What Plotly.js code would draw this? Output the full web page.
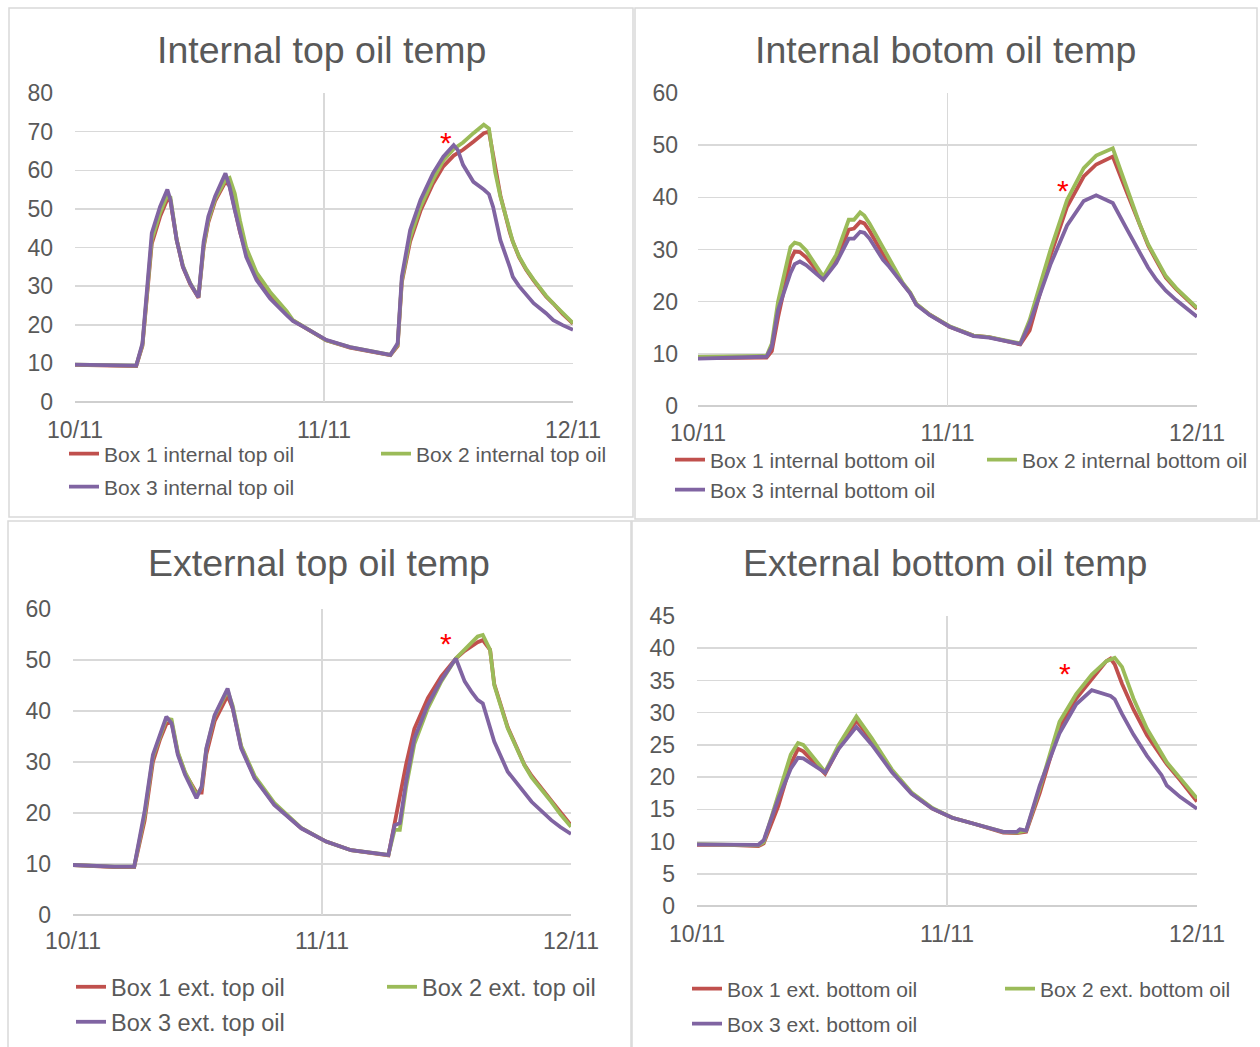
<!DOCTYPE html>
<html>
<head>
<meta charset="utf-8">
<script src="https://cdn.plot.ly/plotly-3.0.1.min.js"></script>
<style>html,body{margin:0;padding:0;background:#fff;}#chart{width:1260px;height:1047px;}</style>
</head>
<body>
<div id="chart"></div>
<script>
// ---- data (hours since 10/11 00:00) ----
const dayTickVals = [0, 24, 48];
const dayTickText = ["10/11", "11/11", "12/11"];

// Panel 1: Internal top oil temp
const t1 = [0, 2, 4, 5.9, 6.5, 7.4, 8.2, 8.9, 9.2, 9.8, 10.4, 11.1, 11.9, 12.4, 12.85, 13.5, 14.5, 14.9, 15.4, 15.9, 16.5, 17.5, 18.8, 20.4, 21.0, 22.0, 24.2, 26.5, 30.4, 31.1, 31.5, 32.3, 33.3, 34.5, 35.5, 36.5, 36.9, 37.4, 38.4, 39.4, 39.9, 40.3, 40.5, 41.0, 41.9, 42.2, 42.8, 43.5, 44.2, 45.4, 46.1, 47.0, 48.0];
const intTopBox1 = [9.6, 9.5, 9.4, 9.3, 14.5, 41, 48, 52.5, 52, 42, 35, 30.5, 27, 40, 46.5, 52, 57, 56, 50, 44, 38.5, 32.5, 27.5, 22.8, 21.1, 19.5, 16.0, 14.1, 12.1, 14.5, 31, 41.5, 49.5, 56.5, 61, 63.8, 64.5, 65.3, 67.4, 69.6, 70.0, 64, 60, 53.5, 44, 41.5, 37.5, 34.2, 31.5, 27.3, 25.5, 22.8, 20.3];
const intTopBox2 = [9.7, 9.6, 9.5, 9.4, 14.8, 42, 49, 53.5, 53, 42, 35.3, 30.8, 27.2, 40.5, 47, 52.5, 57.5, 58, 54, 47, 40, 33.5, 28.5, 23.5, 21.2, 19.5, 16.0, 14.2, 12.2, 14.8, 31.5, 42.5, 50.5, 57.5, 62.5, 65.5, 66.3, 67.2, 69.6, 71.8, 70.8, 63.5, 59.5, 53.2, 44, 41.5, 37.7, 34.4, 31.7, 27.5, 25.5, 23.0, 20.4];
const intTopBox3 = [9.7, 9.6, 9.5, 9.4, 15.2, 43.7, 50.6, 55.0, 52.3, 41.9, 35.0, 30.7, 27.1, 41.5, 48.0, 53.2, 59.2, 55.7, 49.7, 43.7, 37.6, 31.6, 26.8, 22.5, 21.0, 19.5, 16.1, 14.2, 12.2, 15.2, 32.4, 44.5, 52.3, 59.2, 63.5, 66.5, 65.2, 61.4, 57.0, 55.0, 53.8, 50.5, 48.0, 41.9, 35.0, 32.4, 30.0, 27.8, 25.6, 23.0, 21.2, 19.9, 18.7];

// Panel 2: Internal botom oil temp
const t2 = [0, 3, 5, 6.6, 7.1, 7.7, 8.9, 9.3, 9.8, 10.4, 12.05, 13.3, 14.5, 15.0, 15.6, 16.0, 16.5, 17.8, 18.4, 19.7, 20.4, 21.0, 22.3, 24.2, 26.5, 28.0, 31.0, 31.9, 33.9, 35.5, 37.1, 38.3, 39.9, 41.2, 42.5, 43.3, 44.1, 45.0, 46.0, 47.0, 48.0];
const intBotBox1 = [9.2, 9.3, 9.2, 9.3, 10.5, 17, 28, 29.6, 29.5, 28.5, 24.5, 28.0, 33.8, 34.0, 35.3, 35.0, 33.6, 29.0, 27.0, 23.4, 21.7, 19.5, 17.5, 15.2, 13.5, 13.2, 11.8, 14.5, 28.8, 38.2, 44.0, 46.3, 47.8, 41.2, 34.5, 30.8, 27.8, 24.6, 22.4, 20.4, 18.6];
const intBotBox2 = [9.4, 9.5, 9.5, 9.6, 12, 20, 30.5, 31.3, 31, 29.8, 24.8, 29.0, 35.7, 35.7, 37.1, 36.5, 35.0, 30.3, 28.0, 23.6, 21.8, 19.6, 17.5, 15.3, 13.5, 13.2, 12.0, 16.5, 29.9, 39.5, 45.6, 48.0, 49.4, 42.0, 34.8, 31.0, 28.0, 24.9, 22.6, 20.6, 18.8];
const intBotBox3 = [9.1, 9.3, 9.3, 9.45, 11.4, 18.4, 25.5, 27.2, 27.7, 27.0, 24.2, 27.4, 32.1, 32.1, 33.4, 33.2, 32.1, 28.0, 26.7, 23.2, 21.6, 19.4, 17.4, 15.2, 13.4, 13.1, 11.9, 15.8, 27.1, 34.6, 39.3, 40.4, 38.9, 34.1, 29.3, 26.5, 24.2, 22.1, 20.3, 18.6, 17.1];

// Panel 3: External top oil temp
const t3 = [0, 2, 4, 5.9, 6.9, 7.7, 8.4, 9.0, 9.5, 10.1, 10.8, 11.9, 12.4, 12.85, 13.65, 14.9, 15.4, 16.2, 17.5, 19.4, 22.0, 24.4, 26.8, 30.4, 31.0, 31.5, 32.1, 32.9, 34.2, 35.5, 36.9, 37.75, 38.4, 39.0, 39.5, 40.2, 40.6, 41.9, 43.5, 44.2, 46.1, 47.0, 48.0];
const extTopBox1 = [9.8, 9.6, 9.4, 9.4, 18.5, 30.0, 34.5, 37.5, 37.8, 31.8, 27.8, 24, 24, 31.5, 38.0, 43.0, 40.5, 33.0, 27.0, 21.7, 17.0, 14.4, 12.7, 11.7, 18, 23, 29.5, 36.5, 42.5, 46.8, 50.3, 51.8, 52.7, 53.5, 53.9, 52, 45.3, 36.8, 29.5, 27.3, 22.4, 20.0, 17.6];
const extTopBox2 = [9.8, 9.6, 9.5, 9.5, 19.5, 31.0, 35.0, 38.5, 38.3, 32.0, 28.0, 23.5, 25, 32.5, 39.0, 44.0, 41.0, 33.2, 27.3, 22.0, 17.1, 14.4, 12.7, 11.8, 16.7, 16.7, 25.0, 33.5, 40.5, 45.8, 50.3, 52.0, 53.4, 54.6, 54.9, 52.0, 45.1, 36.6, 29.4, 27.0, 22.2, 19.7, 17.3];
const extTopBox3 = [9.8, 9.6, 9.5, 9.5, 20.3, 31.4, 35.3, 38.9, 37.6, 31.4, 27.5, 22.9, 25.2, 32.7, 39.2, 44.4, 40.5, 32.7, 26.8, 21.6, 17.0, 14.4, 12.7, 11.8, 17.6, 18.0, 26.1, 34.6, 41.2, 46.1, 50.3, 45.8, 43.8, 42.2, 41.5, 36.7, 34.0, 28.1, 23.8, 22.2, 18.6, 17.2, 15.9];

// Panel 4: External bottom oil temp
const t4 = [0, 3, 5.9, 6.4, 7.8, 9.0, 9.7, 10.2, 12.3, 13.6, 15.3, 16.8, 18.7, 20.6, 22.6, 24.5, 26.5, 29.4, 30.7, 31.0, 31.6, 32.9, 34.8, 36.4, 37.9, 39.3, 39.7, 40.1, 40.8, 41.9, 43.2, 44.6, 45.1, 46.4, 48.0];
const extBotBox1 = [9.5, 9.5, 9.3, 9.7, 15.5, 22.0, 24.4, 24.0, 20.5, 24.5, 28.8, 25.6, 21.0, 17.5, 15.1, 13.7, 12.8, 11.4, 11.3, 11.4, 11.5, 17.5, 27.8, 32.2, 35.3, 38.0, 38.4, 37.5, 34.5, 30.5, 26.5, 23.0, 22.0, 19.5, 16.2];
const extBotBox2 = [9.6, 9.5, 9.4, 9.9, 17.0, 23.5, 25.3, 25.0, 20.8, 25.0, 29.4, 26.0, 21.2, 17.6, 15.2, 13.7, 12.8, 11.5, 11.4, 11.5, 11.7, 18.2, 28.6, 32.9, 35.9, 38.0, 38.3, 38.5, 37.1, 32.2, 27.5, 23.5, 22.3, 19.8, 16.7];
const extBotBox3 = [9.55, 9.5, 9.5, 10.2, 16.6, 21.3, 23.0, 22.9, 20.7, 24.4, 27.8, 25.0, 20.8, 17.4, 15.1, 13.7, 12.8, 11.5, 11.5, 11.9, 11.7, 18.7, 26.8, 31.3, 33.5, 32.9, 32.6, 32.1, 29.8, 26.6, 23.3, 20.3, 18.7, 16.9, 15.1];

// asterisk marks (hours, value)
const starPos = [[35.76, 69.1], [35.1, 42.7], [35.95, 54.7], [35.3, 37.1]];

const panelTitles = ["Internal top oil temp", "Internal botom oil temp", "External top oil temp", "External bottom oil temp"];
const legendNames = [
  ["Box 1 internal top oil", "Box 2 internal top oil", "Box 3 internal top oil"],
  ["Box 1 internal bottom oil", "Box 2 internal bottom oil", "Box 3 internal bottom oil"],
  ["Box 1 ext. top oil", "Box 2 ext. top oil", "Box 3 ext. top oil"],
  ["Box 1 ext. bottom oil", "Box 2 ext. bottom oil", "Box 3 ext. bottom oil"]
];

// ---- styling / layout ----
const W = 1260, H = 1047;
const FONT = "Liberation Sans, Arial, sans-serif";
const TXT = "#595959";
const GRID = "#D9D9D9";
const colors = ["#C0504D", "#9BBB59", "#8064A2"];
const px = v => v / W;
const py = v => 1 - v / H;

const panels = [
  {t: t1, ys: [intTopBox1, intTopBox2, intTopBox3], xd: [75, 573], yd: [402, 93], yr: [0, 80], dt: 10, xso: 12, yso: 21,
   title: [321, 50], leg: [[102, 454], [414, 454], [102, 487]], legSize: 21, border: [9, 633, 8, 517]},
  {t: t2, ys: [intBotBox1, intBotBox2, intBotBox3], xd: [698, 1197], yd: [406, 93], yr: [0, 60], dt: 10, xso: 11, yso: 19,
   title: [945, 50], leg: [[708, 460], [1020, 460], [708, 490]], legSize: 21, border: [635, 1257, 8, 519]},
  {t: t3, ys: [extTopBox1, extTopBox2, extTopBox3], xd: [73, 571], yd: [915, 609], yr: [0, 60], dt: 10, xso: 10, yso: 21,
   title: [319, 563], leg: [[109, 987], [420, 987], [109, 1022]], legSize: 23.5, border: [8, 631, 521, 1060]},
  {t: t4, ys: [extBotBox1, extBotBox2, extBotBox3], xd: [697, 1197], yd: [906, 616], yr: [0, 45], dt: 5, xso: 12, yso: 21,
   title: [945, 563], leg: [[725, 989], [1038, 989], [725, 1024]], legSize: 21, border: [632, 1262, 521, 1060]}
];

const traces = [];
const layout = {
  width: W, height: H,
  margin: {l: 0, r: 0, t: 0, b: 0, pad: 0},
  paper_bgcolor: "#fff", plot_bgcolor: "#fff",
  font: {family: FONT, color: TXT},
  annotations: [], shapes: []
};

let legIdx = 0;
panels.forEach((p, i) => {
  const n = i + 1;
  const xa = n === 1 ? "x" : "x" + n;
  const ya = n === 1 ? "y" : "y" + n;
  const xKey = n === 1 ? "xaxis" : "xaxis" + n;
  const yKey = n === 1 ? "yaxis" : "yaxis" + n;
  layout[xKey] = {
    domain: [px(p.xd[0]), px(p.xd[1])], anchor: ya, range: [0, 48],
    tickmode: "array", tickvals: dayTickVals, ticktext: dayTickText,
    showgrid: true, gridcolor: GRID, gridwidth: 1.5, zeroline: false,
    showline: false, ticks: "", ticklabelstandoff: p.xso,
    tickfont: {family: FONT, size: 23, color: TXT}, fixedrange: true
  };
  layout[yKey] = {
    domain: [py(p.yd[0]), py(p.yd[1])], anchor: xa, range: p.yr,
    dtick: p.dt, tick0: 0,
    showgrid: true, gridcolor: GRID, gridwidth: 1.5, zeroline: false,
    showline: false, ticks: "", ticklabelstandoff: p.yso,
    tickfont: {family: FONT, size: 23, color: TXT}, fixedrange: true
  };
  // axis bottom line
  layout.shapes.push({type: "line", xref: xa + " domain", yref: ya + " domain", x0: 0, x1: 1, y0: 0, y1: 0,
    line: {color: "#BFBFBF", width: 1.5}, layer: "below"});
  p.ys.forEach((vals, k) => {
    legIdx++;
    const lk = legIdx === 1 ? "legend" : "legend" + legIdx;
    traces.push({
      type: "scatter", mode: "lines", x: p.t, y: vals, xaxis: xa, yaxis: ya,
      name: legendNames[i][k], line: {color: colors[k], width: 3.8},
      legend: lk, showlegend: true, hoverinfo: "skip"
    });
    layout[lk] = {
      x: px(p.leg[k][0] - 38), y: py(p.leg[k][1]), xanchor: "left", yanchor: "middle",
      xref: "paper", yref: "paper", bgcolor: "rgba(0,0,0,0)", borderwidth: 0,
      font: {family: FONT, size: p.legSize, color: TXT}, itemclick: false, itemdoubleclick: false
    };
  });
  // panel title
  layout.annotations.push({text: panelTitles[i], xref: "paper", yref: "paper",
    x: px(p.title[0]), y: py(p.title[1]), xanchor: "center", yanchor: "middle", showarrow: false,
    font: {family: FONT, size: 37.5, color: TXT}});
  // red asterisk
  layout.annotations.push({text: "*", xref: xa, yref: ya, x: starPos[i][0], y: starPos[i][1],
    xanchor: "center", yanchor: "middle", yshift: -7, showarrow: false,
    font: {family: FONT, size: 30, color: "#FF0000"}});
  // panel border
  layout.shapes.push({type: "rect", xref: "paper", yref: "paper",
    x0: px(p.border[0]), x1: px(p.border[1]), y0: py(p.border[3]), y1: py(p.border[2]),
    line: {color: GRID, width: 1.5}, fillcolor: "rgba(0,0,0,0)", layer: "below"});
});

Plotly.newPlot("chart", traces, layout, {staticPlot: true, displayModeBar: false});
</script>
</body>
</html>
